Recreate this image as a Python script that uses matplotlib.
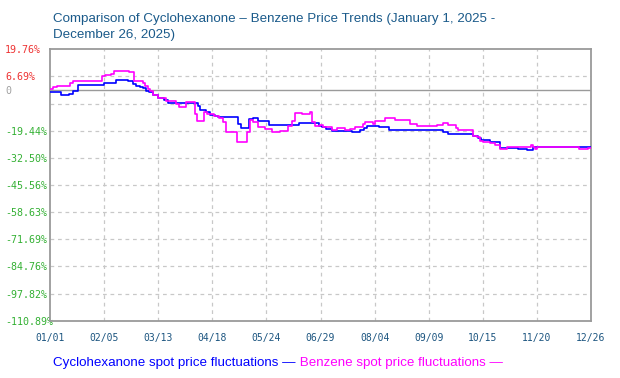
import matplotlib
matplotlib.use("Agg")
import matplotlib.pyplot as plt
import numpy as np

# ---- data (day offset from 2025-01-01, % change) ----
cyc_days = [0, 4.6, 7.3, 12.6, 15, 18.6, 35.8, 43.8, 51.8, 55, 57, 59.7, 61.7, 63.7, 65.7,
            68.4, 71.7, 75.6, 78.3, 98.2, 99.5, 103.5, 106.2, 109.5, 111.5, 124.8, 126.7,
            132, 134.7, 138, 145.3, 165.2, 178.5, 180.5, 183, 187, 197.8, 200.4, 205.7,
            208.4, 210.4, 218.3, 225, 260.8, 264.1, 280.7, 284, 286, 292, 298.6, 310.6,
            316.5, 320.5, 328.5, 335.8, 359]
cyc_vals = [-0.6, -1.0, -2.2, -1.7, -0.2, 2.4, 3.5, 4.8, 4.5, 3.1, 2.3, 1.7, 1.0, -0.1, -0.9,
            -2.2, -3.8, -4.6, -6.0, -7.4, -9.3, -10.5, -11.7, -12.2, -13.0, -16.2, -18.3,
            -13.8, -13.4, -14.6, -16.7, -15.9, -17.0, -17.5, -18.6, -19.4, -19.7, -20.2, -19.1,
            -17.9, -17.0, -17.8, -19.0, -20.2, -21.0, -21.9, -23.0, -23.9, -25.1, -27.7, -28.1,
            -28.8, -27.5, -27.2, -27.5, -27.5]

benz_days = [0, 2, 4.6, 8, 13.3, 15.3, 34.5, 36.5, 40.5, 42.5, 52.4, 55.7, 57, 61.7, 62.8,
             65, 66.4, 68.4, 71.7, 77, 83.6, 85.6, 90.2, 95, 96.2, 97.5, 102.2, 104.2, 108.8,
             112.1, 114.8, 116.8, 124.1, 131, 132.7, 134.7, 138, 142.7, 147.3, 152.6, 158,
             160.6, 162.6, 167.2, 172.5, 173.9, 175.9, 179.2, 181.2, 187.1, 190.5, 195.8, 199,
             202.4, 207.7, 209, 214.3, 215.7, 222.3, 229, 238.9, 243.5, 250.8, 256.8, 260.8,
             264.1, 269.4, 270.8, 280.7, 283.3, 285.3, 287.3, 292, 295.3, 298.6, 300, 303.3,
             308.6, 319.2, 320.5, 321.9, 323.2, 351, 357, 359]
benz_vals = [0.7, 1.7, 2.3, 2.0, 3.6, 4.7, 6.7, 7.3, 8.0, 9.2, 8.8, 4.7, 4.5, 3.6, 2.3,
             0.7, -0.5, -2.2, -3.9, -5.2, -6.5, -8.0, -5.8, -5.8, -11.4, -14.9, -10.5, -11.4, -12.2,
             -13.4, -15.4, -20.2, -24.8, -20.2, -14.1, -15.4, -17.8, -18.6, -19.9, -19.4, -17.0,
             -14.6, -10.9, -11.4, -10.5, -15.4, -17.0, -16.5, -17.8, -19.0, -18.3, -19.1, -18.6,
             -17.5, -16.2, -15.4, -16.4, -14.9, -13.4, -14.1, -16.2, -17.0, -17.3, -16.5, -15.7,
             -16.5, -17.9, -19.0, -21.9, -22.6, -24.3, -24.8, -25.5, -26.2, -28.0, -28.3, -27.5,
             -27.5, -26.2, -27.5, -28.3, -27.2, -28.1, -27.8, -27.8]

x_labels = ["01/01", "02/05", "03/13", "04/18", "05/24", "06/29", "08/04", "09/09",
            "10/15", "11/20", "12/26"]
y_ticks = [19.76, 6.69, -6.38, -19.44, -32.50, -45.56, -58.63, -71.69, -84.76, -97.82, -110.89]
y_labels = ["19.76%", "6.69%", "", "-19.44%", "-32.50%", "-45.56%", "-58.63%", "-71.69%",
            "-84.76%", "-97.82%", "-110.89%"]

title = "Comparison of Cyclohexanone \u2013 Benzene Price Trends (January 1, 2025 -\nDecember 26, 2025)"
legend1 = "Cyclohexanone spot price fluctuations \u2014"
legend2 = " Benzene spot price fluctuations \u2014"

# ---- figure ----
W, H = 620, 378
fig = plt.figure(figsize=(W / 100, H / 100), dpi=100)
L, R, T, B = 50, 591, 49.3, 320.7
ax = fig.add_axes([L / W, 1 - B / H, (R - L) / W, (B - T) / H])

ax.set_xlim(0, 359)
ax.set_ylim(y_ticks[-1], y_ticks[0])

xt = np.linspace(0, 359, len(x_labels))
ax.set_xticks(xt)
ax.set_xticklabels(x_labels, family="DejaVu Sans Mono", fontsize=7, color="#1c5580")
ax.tick_params(axis="x", length=0, pad=9)

ax.set_yticks(y_ticks + [0])
ax.set_yticklabels(y_labels + ["0"], family="DejaVu Sans Mono", fontsize=7.2)
ax.tick_params(axis="y", length=0, pad=(L - 5) * 0.72)
for lab, v in zip(ax.get_yticklabels(), y_ticks + [0]):
    lab.set_horizontalalignment("left")
    if v > 0:
        lab.set_color("#ee3333")
    elif v == 0:
        lab.set_color("#a0a0a0")
    else:
        lab.set_color("#33b033")

# grid
for v in y_ticks[1:-1]:
    ax.axhline(v, color="#c8c8c8", lw=0.9, ls=(0, (3, 3)), zorder=1)
for v in xt[1:-1]:
    ax.axvline(v, color="#c8c8c8", lw=0.9, ls=(0, (3, 3)), zorder=1)
ax.axhline(0, color="#9a9a9a", lw=1.0, zorder=1.5)

for s in ax.spines.values():
    s.set_color("#9a9a9a")
    s.set_linewidth(1.3)

ax.plot(cyc_days, cyc_vals, color="#0000ff", lw=1.2, drawstyle="steps-post", zorder=3)
ax.plot(benz_days, benz_vals, color="#ff00ff", lw=1.2, drawstyle="steps-post", zorder=3)

fig.text(53 / W, 1 - 13 / H, title, ha="left", va="top", fontsize=9.6,
         family="Liberation Sans", color="#1a5a8a", linespacing=1.45)

t1 = fig.text(53 / W, 1 - 363 / H, legend1, ha="left", va="center", fontsize=9.6,
              family="Liberation Sans", color="#0000ff")
ax.annotate(legend2, xy=(1, 0.5), xycoords=t1, ha="left", va="center", fontsize=9.6,
            family="Liberation Sans", color="#ff00ff", annotation_clip=False)

fig.savefig("out.png", dpi=100)
